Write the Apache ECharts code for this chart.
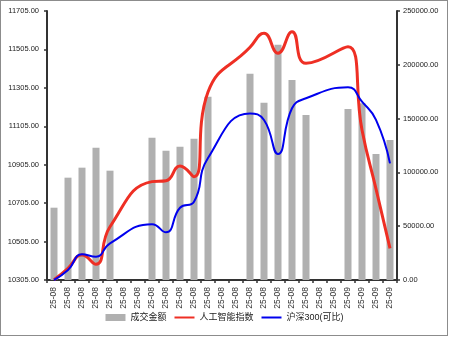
<!DOCTYPE html>
<html><head><meta charset="utf-8">
<script src="https://cdn.jsdelivr.net/npm/echarts@6/dist/echarts.min.js"></script>
<style>
html,body{margin:0;padding:0;background:#fff;overflow:hidden}
#chart{position:absolute;left:0;top:0;width:449px;height:337px}
#frame{position:absolute;left:0;top:0;width:448px;height:336px;box-sizing:border-box;border:1px solid #8c8c8c;pointer-events:none}
</style></head><body>
<div id="chart"></div><div id="frame"></div>
<script>
const categories = [
  '25-08','25-08','25-08','25-08','25-08','25-08','25-08',
  '25-08','25-08','25-08','25-08','25-08','25-08','25-08',
  '25-08','25-08','25-08','25-08','25-08','25-08','25-08',
  '25-09','25-09','25-09','25-09'
];
const turnover = [67200, 95100, 104400, 123000, 101600, null, null,
  132300, 120200, 123900, 131300, 170400, null, null,
  191700, 164800, 218700, 185900, 153400, null, null,
  158900, 164200, 117100, 130100];
const aiIndex = [10306, 10366, 10435, 10387, 10582, null, null,
  10817, 10822, 10898, 10843, 11283, null, null,
  11516, 11589, 11485, 11597, 11433, null, null,
  11519, 11086, 10779, 10470];
const hs300 = [10305, 10357, 10439, 10426, 10496, null, null,
  10595, 10553, 10681, 10712, 10940, null, null,
  11172, 11138, 10961, 11199, 11251, null, null,
  11308, 11233, 11138, 10912];
const leftTicks = [10305, 10505, 10705, 10905, 11105, 11305, 11505, 11705];
const rightTicks = [0, 50000, 100000, 150000, 200000, 250000];

const FONT = "'Liberation Sans', Arial, 'Noto Sans CJK SC', sans-serif";
const axisLine = {show: true, lineStyle: {color: '#333', width: 2}};
const chart = echarts.init(document.getElementById('chart'), null, {renderer: 'canvas'});
chart.setOption({
  animation: false,
  textStyle: {fontFamily: FONT},
  grid: {left: 47, right: 52, top: 11, bottom: 57, containLabel: false},
  legend: {
    bottom: 10, left: 'center', itemWidth: 20, itemHeight: 7, itemGap: 7,
    textStyle: {fontSize: 9, color: '#222', fontFamily: FONT},
    data: [
      {name: '成交金额', icon: 'rect'},
      {name: '人工智能指数', itemStyle: {opacity: 0}},
      {name: '沪深300(可比)', itemStyle: {opacity: 0}}
    ]
  },
  xAxis: {
    type: 'category', data: categories, boundaryGap: true,
    axisLine: axisLine,
    axisTick: {show: true, interval: 0, length: 3, lineStyle: {color: '#333', width: 1.5}},
    axisLabel: {interval: 0, rotate: 90, fontSize: 8.5, color: '#333', margin: 7, fontFamily: FONT},
    splitLine: {show: false}
  },
  yAxis: [{
    type: 'value', position: 'left', min: leftTicks[0], max: leftTicks[leftTicks.length - 1],
    axisLine: axisLine,
    axisTick: {show: true, length: 3, customValues: leftTicks, lineStyle: {color: '#333', width: 1.5}},
    axisLabel: {customValues: leftTicks, fontSize: 7.5, color: '#222', margin: 8, fontFamily: FONT,
      formatter: v => Number(v).toFixed(2)},
    splitLine: {show: false}
  }, {
    type: 'value', position: 'right', min: rightTicks[0], max: rightTicks[rightTicks.length - 1], interval: 50000,
    axisLine: axisLine,
    axisTick: {show: true, length: 3, lineStyle: {color: '#333', width: 1.5}},
    axisLabel: {fontSize: 7.5, color: '#222', margin: 6, fontFamily: FONT,
      formatter: v => Number(v).toFixed(2)},
    splitLine: {show: false}
  }],
  series: [{
    name: '成交金额', type: 'bar', yAxisIndex: 1, data: turnover,
    barWidth: 7, itemStyle: {color: '#b0b0b0'}
  }, {
    name: '人工智能指数', type: 'line', yAxisIndex: 0, data: aiIndex,
    smooth: true, connectNulls: true, symbol: 'none', showSymbol: false,
    lineStyle: {color: '#ee2f24', width: 3}, itemStyle: {color: '#ee2f24'}
  }, {
    name: '沪深300(可比)', type: 'line', yAxisIndex: 0, data: hs300,
    smooth: true, connectNulls: true, symbol: 'none', showSymbol: false,
    lineStyle: {color: '#0000ee', width: 2}, itemStyle: {color: '#0000ee'}
  }]
});
</script>
</body></html>
